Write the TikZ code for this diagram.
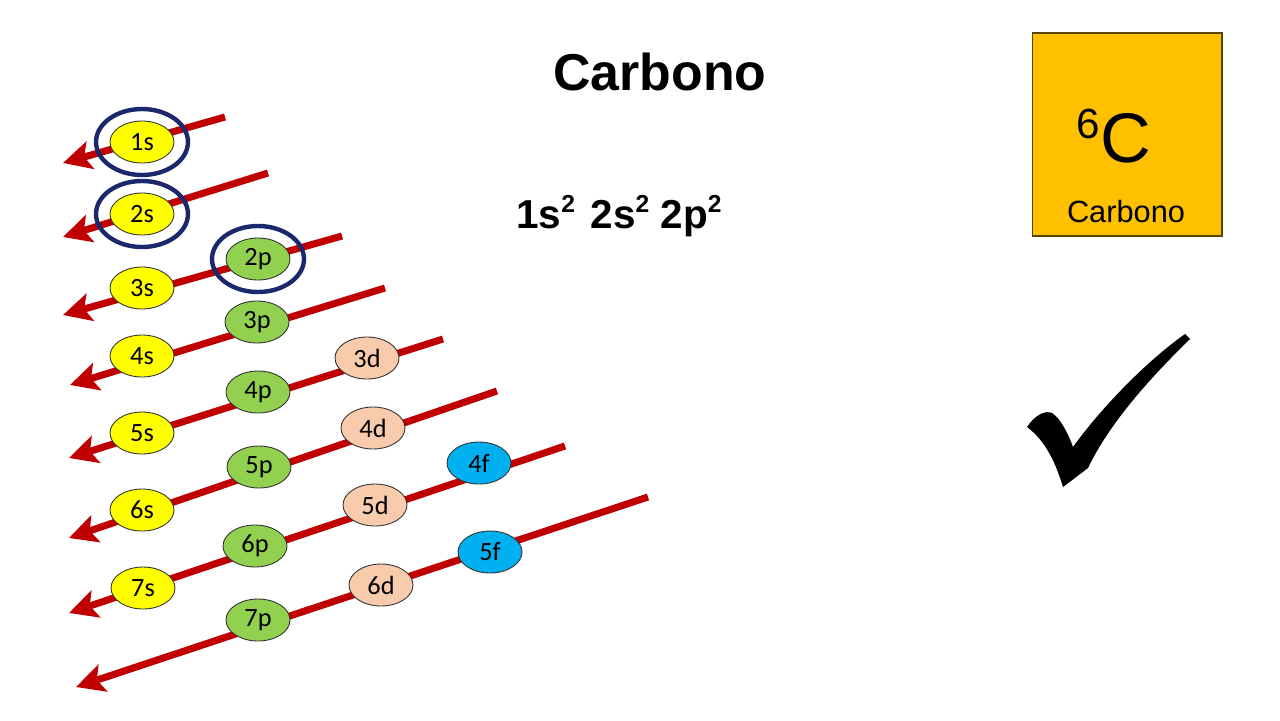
\documentclass[tikz,border=0pt]{standalone}
\usepackage{fontspec}
\setmainfont{Liberation Sans}
\newfontfamily\orbfont{Carlito}
\usetikzlibrary{arrows.meta, shapes.geometric}

\definecolor{diagred}{RGB}{192,0,0}
\definecolor{ringblue}{RGB}{28,40,108}
\definecolor{sorb}{RGB}{255,255,0}
\definecolor{porb}{RGB}{146,208,80}
\definecolor{dorb}{RGB}{248,203,173}
\definecolor{forb}{RGB}{0,176,240}
\definecolor{elemgold}{RGB}{255,192,0}

\newcommand{\esup}[1]{\raisebox{9pt}{\fontsize{14}{14}\selectfont #1}}

\begin{document}
\begin{tikzpicture}[
    x=0.02cm, y=-0.02cm,
    diag/.style={line width=4pt, diagred,
        -{Stealth[length=16pt, width=16pt, inset=3.5pt]}},
    orb/.style={ellipse, draw=black!80, line width=0.5pt, minimum width=1.28cm,
        minimum height=0.84cm, inner sep=0pt, font=\orbfont\fontsize{15}{17}\selectfont},
    ring/.style={ellipse, draw=ringblue, line width=2.5pt, minimum width=1.84cm,
        minimum height=1.32cm, inner sep=0pt},
]
\useasboundingbox (0,0) rectangle (1280,720);

% ---- Title and configuration ----
\node[font=\bfseries\fontsize{29.5}{34}\selectfont] (title) at (660,72) {Carbono};
\node[font=\bfseries\fontsize{23}{27}\selectfont] (config) at (619,216)
    {1s\esup{2}\hspace{9pt}2s\esup{2}\hspace{6.5pt}2p\esup{2}};

% ---- Element box ----
\node[draw={rgb,255:red,90;green,70;blue,0}, line width=0.6pt, fill=elemgold,
      minimum width=3.8cm, minimum height=4.06cm, inner sep=0pt] (elembox) at (1127,134.5) {};
\node[anchor=base, inner sep=0pt] (symbol) at (1114,162)
    {\raisebox{13.6pt}{\fontsize{24}{24}\selectfont 6}\fontsize{40}{40}\selectfont C};
\node[anchor=base, inner sep=0pt, font=\fontsize{17.5}{20}\selectfont] (elemname) at (1126,222) {Carbono};

% ---- Diagonal arrows (start / tip) ----
\foreach \n/\xa/\ya/\xb/\yb in {1/225/117/63/163, 2/268/173/63/237, 3/342/236/63/315,
    4/385/288/70/385, 5/443/339/69/458, 6/497/391/69/538, 7/565/446/69/613, 8/648/497/76/687}
{
    \coordinate (s\n) at (\xa,\ya);
    \coordinate (t\n) at (\xb,\yb);
    \draw[diag] (s\n) -- (t\n);
}

% ---- Orbitals ----
\foreach \name/\x/\y/\col in {1s/142/142/sorb, 2s/142/214/sorb, 3s/142/288/sorb,
    4s/142/356/sorb, 5s/142/433/sorb, 6s/142/510/sorb, 7s/143/588/sorb,
    2p/258/259/porb, 3p/257/322/porb, 4p/258/392/porb, 5p/259/467/porb,
    6p/255/546/porb, 7p/258/620/porb,
    3d/367/358/dorb, 4d/373/428/dorb, 5d/375/505/dorb, 6d/381/585/dorb,
    4f/479/463/forb, 5f/490/552/forb}
    \node[orb, fill=\col] (o\name) at (\x,\y) {\name};

% ---- Filled orbitals for carbon ----
\foreach \name in {1s, 2s, 2p}
    \node[ring] (r\name) at (o\name) {};

% ---- Check mark ----
\fill[black] (1027,427) .. controls (1035,415) and (1045,410) .. (1052,413)
    .. controls (1060,418) and (1068,433) .. (1073,447)
    .. controls (1095,416) and (1140,366) .. (1185,334)
    -- (1190,339)
    .. controls (1152,376) and (1110,422) .. (1088,468)
    -- (1063,487)
    .. controls (1056,464) and (1046,441) .. cycle;

\end{tikzpicture}
\end{document}
